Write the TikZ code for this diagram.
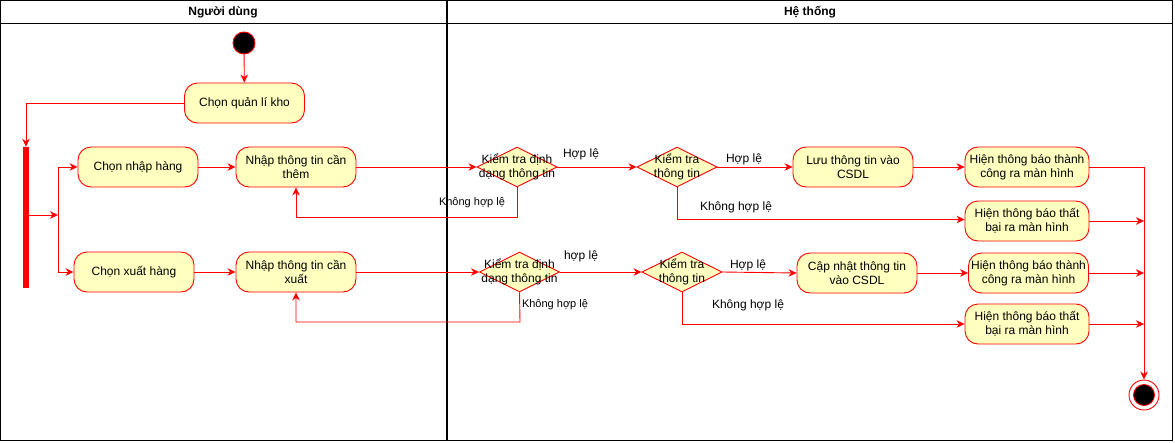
\documentclass[tikz,border=0pt]{standalone}
\usepackage{fontspec}
\setmainfont{Liberation Sans}
\usetikzlibrary{shapes.geometric,arrows.meta}
\definecolor{boxfill}{HTML}{FFFFC0}
\definecolor{lred}{HTML}{FF0000}
\tikzset{
  act/.style={draw=lred, fill=boxfill, rounded corners=13pt, minimum width=120pt, minimum height=40pt, inner sep=1pt, align=center, font=\fontsize{12}{14}\selectfont, line width=0.9pt},
  dec/.style={draw=lred, fill=boxfill, shape=diamond, minimum width=80pt, minimum height=40pt, inner sep=0pt, aspect=2, line width=0.9pt},
  dectext/.style={align=center, font=\fontsize{12}{14}\selectfont},
  conn/.style={draw=lred, line width=0.9pt, -{Stealth[length=8pt,width=7.5pt,inset=2.5pt]}},
  plain/.style={draw=lred, line width=0.9pt},
  lbl/.style={font=\fontsize{12}{14}\selectfont, inner sep=0pt},
  slbl/.style={font=\fontsize{11}{13}\selectfont, inner sep=0pt},
  hdr/.style={font=\bfseries\fontsize{12}{14}\selectfont, inner sep=0pt},
}
\begin{document}
\begin{tikzpicture}[x=1pt,y=-1pt]
\useasboundingbox (0,0) rectangle (1175,442);
% swimlanes
\draw[black, line width=1pt] (0.5,0.5) rectangle (1172.5,440);
\draw[black, line width=1pt] (0.5,23) -- (1172.5,23);
\draw[black, line width=2pt] (447,0.5) -- (447,440);
\node[hdr] (h1) at (223,12) {Người dùng};
\node[hdr] (h2) at (810,12) {Hệ thống};
% start
\node[circle, draw=lred, fill=black, minimum size=22pt, inner sep=0pt, line width=0.9pt] (start) at (244,43) {};
% nodes
\node[act] (q) at (244.5,103) {Chọn quản lí kho};
\node[draw=lred, fill=lred, minimum width=5pt, minimum height=140pt, inner sep=0pt] (bar) at (26,217) {};
\node[act] (nh) at (138,167) {Chọn nhập hàng};
\node[act] (xh) at (134,272) {Chọn xuất hàng};
\node[act] (nt) at (296,167) {Nhập thông tin cần\\thêm};
\node[act] (nx) at (296,272) {Nhập thông tin cần\\xuất};
\node[dec, label={[dectext]center:Kiểm tra định\\dạng thông tin}] (d1) at (517,167) {};
\node[dec, label={[dectext]center:Kiểm tra\\thông tin}] (d2) at (677,167) {};
\node[dec, label={[dectext]center:Kiểm tra định\\dạng thông tin}] (d3) at (519.5,272) {};
\node[dec, label={[dectext]center:Kiểm tra\\thông tin}] (d4) at (682,272) {};
\node[act] (luu) at (853,167) {Lưu thông tin vào\\CSDL};
\node[act] (cn) at (857,273) {Cập nhật thông tin\\vào CSDL};
\node[act, minimum width=124pt] (tc1) at (1027,167) {Hiện thông báo thành\\công ra màn hình};
\node[act, minimum width=124pt] (tb1) at (1027,221) {Hiện thông báo thất\\bại ra màn hình};
\node[act, minimum width=120pt] (tc2) at (1028.5,273) {Hiện thông báo thành\\công ra màn hình};
\node[act, minimum width=124pt] (tb2) at (1027,324) {Hiện thông báo thất\\bại ra màn hình};
% end
\node[circle, draw=lred, fill=white, minimum size=30pt, inner sep=0pt, line width=0.9pt] (end) at (1144,395) {};
\node[circle, draw=lred, fill=black, minimum size=21pt, inner sep=0pt, line width=0.9pt] (endin) at (1144,395) {};
% coordinates
\coordinate (j) at (58,215);
\coordinate (jt) at (58,167);
\coordinate (jb) at (58,272);
\coordinate (c1) at (26,103);
\coordinate (f1) at (517,217);
\coordinate (f1b) at (296,217);
\coordinate (f3) at (520,322);
\coordinate (f3b) at (296,322);
\coordinate (g2) at (677,219.5);
\coordinate (g4) at (682,324);
\coordinate (r0) at (1144,167);
\coordinate (r1) at (1144,221);
\coordinate (r2) at (1144,273);
\coordinate (r3) at (1144,324);
% connectors
\draw[conn] (start) -- (q);
\draw[conn] (q.west) -- (c1) -- (bar.north);
\draw[conn] (bar.east |- j) -- (j);
\draw[plain] (jt) -- (jb);
\draw[conn] (jt) -- (nh.west);
\draw[conn] (jb) -- (xh.west);
\draw[conn] (nh) -- (nt);
\draw[conn] (xh) -- (nx);
\draw[conn] (nt.east) -- (d1.west);
\draw[conn] (nx.east) -- (d3.west);
\draw[conn] (d1.east) -- (d2.west);
\draw[conn] (d3.east) -- (d4.west);
\draw[conn] (d2.east) -- (luu.west);
\draw[conn] (d4.east) -- (cn.west);
\draw[conn] (luu) -- (tc1);
\draw[conn] (cn) -- (tc2);
\draw[conn] (d2.south) -- (g2) -- (tb1.west |- g2);
\draw[conn] (d4.south) -- (g4) -- (tb2.west);
\draw[conn] (d1.south) -- (f1) -- (f1b) -- (nt.south);
\draw[conn] (d3.south) -- (f3) -- (f3b) -- (nx.south);
\draw[conn] (tc1.east) -- (r0) -- (end.north);
\draw[conn] (tb1.east) -- (r1);
\draw[conn] (tc2.east) -- (r2);
\draw[conn] (tb2.east) -- (r3);
% labels
\node[lbl] (l1) at (581,154) {Hợp lệ};
\node[lbl] (l2) at (744,159) {Hợp lệ};
\node[lbl] (l3) at (581,256) {hợp lệ};
\node[lbl] (l4) at (748,265) {Hợp lệ};
\node[lbl] (l5) at (736,207) {Không hợp lệ};
\node[lbl] (l6) at (748,305) {Không hợp lệ};
\node[slbl] (l7) at (472,203) {Không hợp lệ};
\node[slbl] (l8) at (555,305) {Không hợp lệ};
\end{tikzpicture}
\end{document}
